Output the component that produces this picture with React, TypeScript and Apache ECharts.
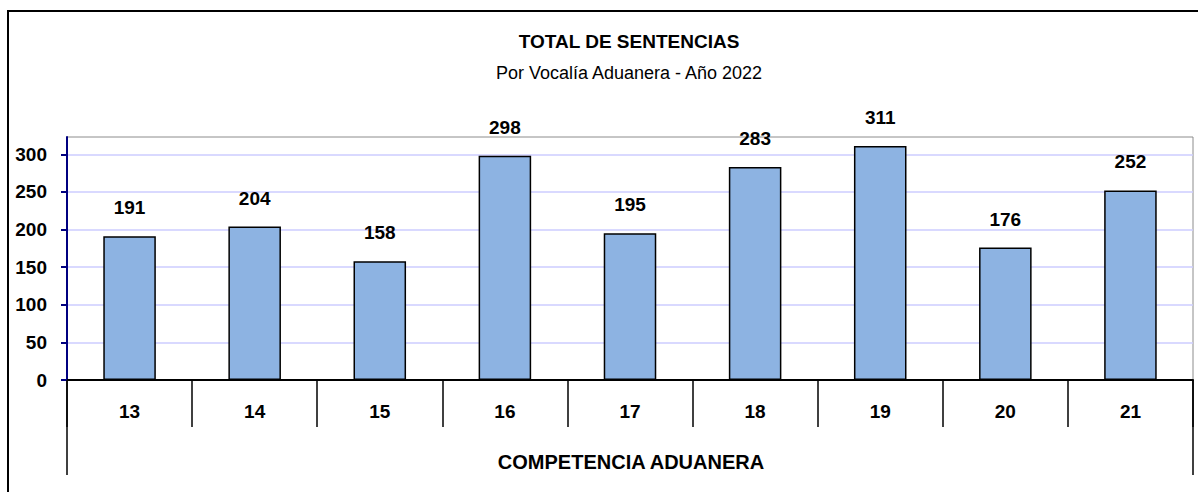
import React, { useEffect, useRef } from "react";
import * as echarts from "echarts";

const categories = ["13", "14", "15", "16", "17", "18", "19", "20", "21"];
const sentencias = [191, 204, 158, 298, 195, 283, 311, 176, 252];
const yTicks = [0, 50, 100, 150, 200, 250, 300];
const titleText = "TOTAL DE SENTENCIAS";
const subtitleText = "Por Vocalía Aduanera - Año 2022";
const axisTitle = "COMPETENCIA ADUANERA";

const FONT = "'Liberation Sans', Arial, sans-serif";

export default function App() {
  const ref = useRef<HTMLDivElement>(null);
  useEffect(() => {
    if (!ref.current) return;
    const chart = echarts.init(ref.current, undefined, { renderer: "svg" });
    const gl = 67, gt = 137, gw = 1126, gh = 243;
    chart.setOption({
      animation: false,
      backgroundColor: "#ffffff",
      textStyle: { fontFamily: FONT },
      title: [
        {
          text: titleText,
          left: 624,
          top: 27,
          padding: 5,
          textAlign: "center",
          textStyle: { fontFamily: FONT, fontSize: 19, fontWeight: "bold", color: "#000" },
        },
        {
          text: subtitleText,
          left: 624,
          top: 59,
          padding: 5,
          textAlign: "center",
          textStyle: { fontFamily: FONT, fontSize: 18, fontWeight: "normal", color: "#000" },
        },
      ],
      grid: {
        left: gl,
        top: gt,
        width: gw,
        height: gh,
        show: true,
        borderColor: "#8c8c8c",
        borderWidth: 1,
        backgroundColor: "transparent",
      },
      xAxis: {
        type: "category",
        data: categories,
        boundaryGap: true,
        axisLine: { show: true, lineStyle: { color: "#000", width: 2 } },
        axisTick: { show: true, interval: 0, length: 47, lineStyle: { color: "#000", width: 1.5 } },
        axisLabel: {
          interval: 0,
          margin: 22,
          fontFamily: FONT,
          fontSize: 19,
          fontWeight: "bold",
          color: "#000",
        },
        splitLine: { show: false },
      },
      yAxis: {
        type: "value",
        min: 0,
        max: 323,
        interval: 50,
        axisLine: { show: true, lineStyle: { color: "#000080", width: 2 } },
        axisTick: {
          show: true,
          length: 6,
          customValues: yTicks,
          lineStyle: { color: "#000080", width: 2 },
        },
        axisLabel: {
          customValues: yTicks,
          margin: 20,
          fontFamily: FONT,
          fontSize: 19,
          fontWeight: "bold",
          color: "#000",
        },
        splitLine: { show: true, lineStyle: { color: "#ccccff", width: 1.5 } },
      },
      series: [
        {
          type: "bar",
          data: sentencias,
          barWidth: "42%",
          itemStyle: { color: "#8db3e2", borderColor: "#000", borderWidth: 1.5 },
          label: {
            show: true,
            position: "top",
            distance: 19,
            fontFamily: FONT,
            fontSize: 19,
            fontWeight: "bold",
            color: "#000",
          },
        },
      ],
      graphic: [
        {
          type: "rect",
          shape: { x: 8, y: 11, width: 1400, height: 700 },
          style: { fill: "none", stroke: "#000", lineWidth: 2 },
          silent: true,
        },
        {
          type: "line",
          shape: { x1: gl, y1: gt + gh, x2: gl, y2: 475 },
          style: { stroke: "#000", lineWidth: 1.5 },
          silent: true,
        },
        {
          type: "line",
          shape: { x1: gl + gw, y1: gt + gh, x2: gl + gw, y2: 475 },
          style: { stroke: "#000", lineWidth: 1.5 },
          silent: true,
        },
        {
          type: "text",
          x: 631,
          y: 462,
          style: {
            text: axisTitle,
            fontFamily: FONT,
            fontSize: 20,
            fontWeight: "bold",
            fill: "#000",
            align: "center",
            verticalAlign: "middle",
          },
          silent: true,
        },
      ],
    });
    return () => chart.dispose();
  }, []);
  return (
    <div
      ref={ref}
      style={{ position: "absolute", left: 0, top: 0, width: 1198, height: 492 }}
    />
  );
}
